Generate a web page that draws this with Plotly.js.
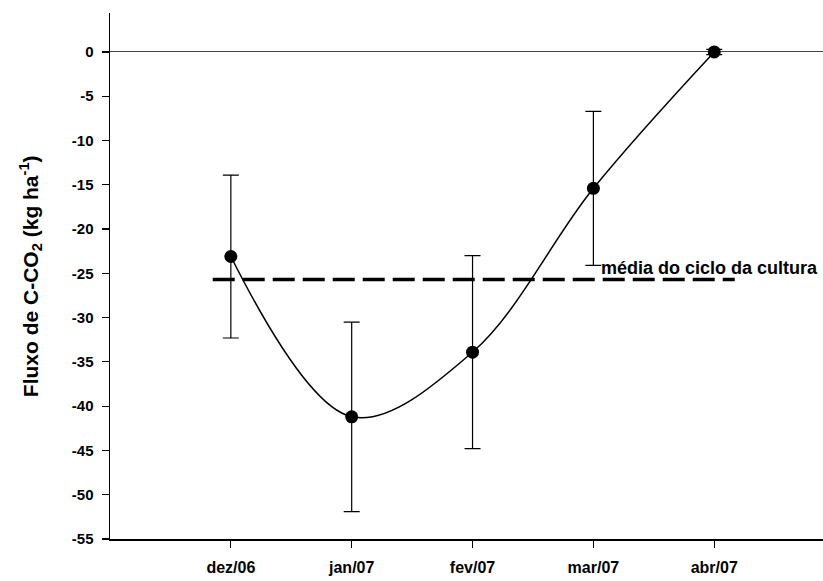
<!DOCTYPE html>
<html>
<head>
<meta charset="utf-8">
<script src="https://cdn.plot.ly/plotly-3.0.1.min.js"></script>
<style>html,body{margin:0;padding:0;background:#fff;}#chart{width:823px;height:581px;}</style>
</head>
<body>
<div id="chart"></div>
<script>
var months = ["dez/06", "jan/07", "fev/07", "mar/07", "abr/07"];
var monthPos = [1, 2, 3, 4, 5];
var flux = [-23.1, -41.2, -33.9, -15.4, 0];
var fluxErr = [9.2, 10.7, 10.9, 8.7, 0.3];
var meanValue = -25.7;
var meanSpan = [0.85, 5.17];
var meanLabel = "média do ciclo da cultura";
var yTicks = [0, -5, -10, -15, -20, -25, -30, -35, -40, -45, -50, -55];

var fam = "Liberation Sans, Arial, sans-serif";

var traces = [
  {
    x: monthPos, y: flux, type: "scatter", mode: "lines",
    line: {shape: "spline", smoothing: 1, color: "#000", width: 1.5},
    hoverinfo: "skip", showlegend: false
  },
  {
    x: meanSpan, y: [meanValue, meanValue], type: "scatter", mode: "lines",
    line: {color: "#000", width: 3.5, dash: "22px,8px"},
    showlegend: false
  },
  {
    x: monthPos, y: flux, type: "scatter", mode: "markers",
    marker: {color: "#000", size: 13},
    error_y: {type: "data", array: fluxErr, visible: true, color: "#000", thickness: 1.2, width: 8},
    showlegend: false
  }
];

var layout = {
  width: 823, height: 581,
  margin: {l: 110, r: 0, t: 13, b: 42},
  paper_bgcolor: "#fff", plot_bgcolor: "#fff",
  font: {family: fam, size: 12, color: "#000"},
  showlegend: false,
  xaxis: {
    range: [0, 5.9],
    tickvals: monthPos, ticktext: months.map(function (m) { return "<b>" + m + "</b>"; }),
    ticks: "outside", ticklen: 7, tickwidth: 1.2, tickcolor: "#000",
    showline: true, linecolor: "#000", linewidth: 1.5,
    showgrid: false, zeroline: false,
    tickfont: {family: fam, size: 16, color: "#000"},
    ticklabelstandoff: 6
  },
  yaxis: {
    range: [-55, 4.4],
    tickvals: yTicks, ticktext: yTicks.map(function (v) { return "<b>" + v + "</b>"; }),
    ticks: "outside", ticklen: 7, tickwidth: 1.2, tickcolor: "#000",
    showline: true, linecolor: "#000", linewidth: 1.5,
    showgrid: false,
    zeroline: true, zerolinecolor: "#444", zerolinewidth: 1,
    tickfont: {family: fam, size: 15, color: "#000"},
    ticklabelstandoff: 5
  },
  annotations: [
    {
      x: meanSpan[0] + (meanSpan[1] - meanSpan[0]) * 0.7407, y: meanValue,
      xref: "x", yref: "y", xanchor: "left", yanchor: "bottom",
      text: "<b>" + meanLabel + "</b>", showarrow: false, yshift: 0,
      font: {family: fam, size: 18, color: "#000"}
    },
    {
      xref: "paper", yref: "paper", x: -0.112, y: 0.5,
      xanchor: "center", yanchor: "middle", textangle: -90,
      text: "<b>Fluxo de C-CO<sub>2</sub> (kg ha<sup>-1</sup>)</b>", showarrow: false,
      font: {family: fam, size: 21, color: "#000"}
    }
  ]
};

Plotly.newPlot("chart", traces, layout, {displayModeBar: false, staticPlot: true});
</script>
</body>
</html>
